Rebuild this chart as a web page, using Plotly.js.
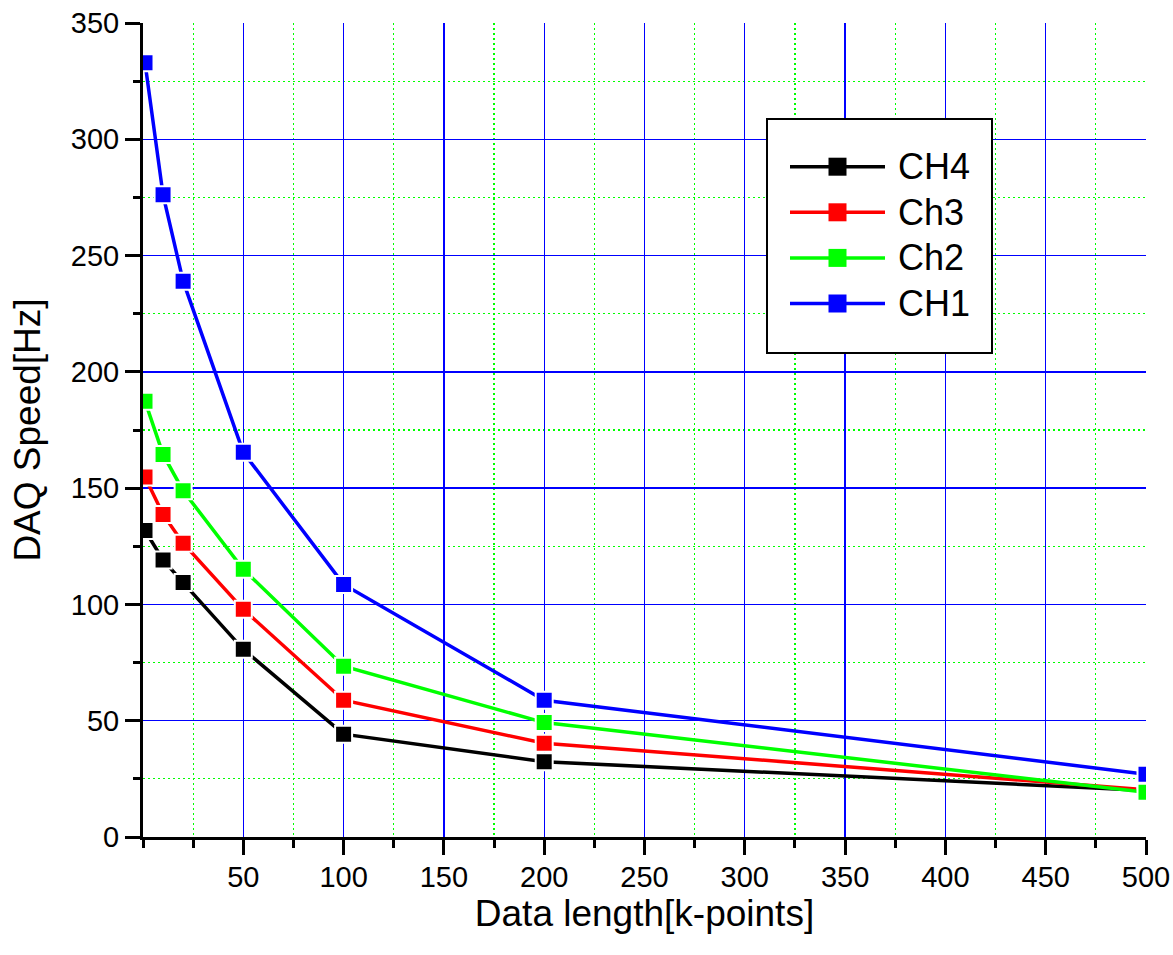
<!DOCTYPE html>
<html>
<head>
<meta charset="utf-8">
<script src="https://cdn.plot.ly/plotly-3.0.1.min.js"></script>
<style>
  html, body { margin: 0; padding: 0; background: #ffffff; }
  #chart { width: 1173px; height: 955px; }
</style>
</head>
<body>
<div id="chart"></div>
<script>
// ---- data ----
var dataLength = [1, 10, 20, 50, 100, 200, 500];          // k-points
var seriesNames = ["CH4", "Ch3", "Ch2", "CH1"];
var ch4Speed = [131.8, 119.1, 109.4, 80.7, 44.2, 32.4, 20.0];
var ch3Speed = [154.8, 138.7, 126.3, 97.9, 58.8, 40.3, 20.3];
var ch2Speed = [187.4, 164.5, 148.9, 115.1, 73.4, 49.2, 19.2];
var ch1Speed = [332.9, 276.1, 239.0, 165.4, 108.6, 58.8, 27.0];
var xTickVals = [50, 100, 150, 200, 250, 300, 350, 400, 450, 500];
var xTickText = ["50", "100", "150", "200", "250", "300", "350", "400", "450", "500"];

var seriesValues = [ch4Speed, ch3Speed, ch2Speed, ch1Speed];
var seriesColors = ["#000000", "#ff0000", "#00ff00", "#0000ff"];

var FONT = "Liberation Sans, Arial, Helvetica, sans-serif";

// plot area in pixels
var W = 1173, H = 955;
var L = 143, R = 1146, T = 23, B = 837;
function px2x(px) { return (px - L) / (R - L); }
function py2y(py) { return (B - py) / (B - T); }

var traces = seriesNames.map(function (name, i) {
  return {
    type: "scatter",
    mode: "lines+markers",
    name: name,
    x: dataLength,
    y: seriesValues[i],
    cliponaxis: true,
    line: { color: seriesColors[i], width: 3.5 },
    marker: { symbol: "square", size: 17, color: seriesColors[i],
              line: { color: "#ffffff", width: 2 } },
    showlegend: false
  };
});

// custom legend (box, line samples, markers, labels)
var shapes = [];
var annotations = [];
shapes.push({
  type: "rect", xref: "paper", yref: "paper", layer: "above",
  x0: px2x(767), x1: px2x(992), y0: py2y(353), y1: py2y(119),
  fillcolor: "#ffffff", line: { color: "#000000", width: 2 }
});
seriesNames.forEach(function (name, i) {
  var rowPy = 166.7 + i * 45.6;
  var yc = py2y(rowPy);
  shapes.push({
    type: "line", xref: "paper", yref: "paper", layer: "above",
    x0: px2x(790), x1: px2x(885), y0: yc, y1: yc,
    line: { color: seriesColors[i], width: 3.5 }
  });
  shapes.push({
    type: "rect", xref: "paper", yref: "paper", layer: "above",
    xsizemode: "pixel", ysizemode: "pixel",
    xanchor: px2x(837.5), yanchor: yc,
    x0: -9, x1: 9, y0: -9, y1: 9,
    fillcolor: seriesColors[i], line: { width: 0 }
  });
  annotations.push({
    xref: "paper", yref: "paper", x: px2x(896), y: yc,
    xanchor: "left", yanchor: "middle", showarrow: false,
    text: name, font: { family: FONT, size: 36, color: "#000000" }
  });
});

var minorGrid = { tickmode: "linear", tick0: 0, dtick: 25, ticks: "outside",
                  tickwidth: 3, tickcolor: "#000000",
                  showgrid: true, gridcolor: "rgb(0,255,0)", gridwidth: 1.2, griddash: "2px,3px" };

var layout = {
  width: W, height: H,
  margin: { l: L, r: W - R, t: T, b: H - B, pad: 0 },
  paper_bgcolor: "#ffffff",
  plot_bgcolor: "#ffffff",
  showlegend: false,
  font: { family: FONT, color: "#000000" },
  xaxis: {
    range: [0, 500],
    tickmode: "array", tickvals: xTickVals, ticktext: xTickText,
    ticks: "outside", ticklen: 15, tickwidth: 3, tickcolor: "#000000",
    ticklabelstandoff: -3,
    tickfont: { family: FONT, size: 29, color: "#000000" },
    showline: true, linecolor: "#000000", linewidth: 3,
    showgrid: true, gridcolor: "#0000ff", gridwidth: 1.3,
    zeroline: false,
    minor: Object.assign({ ticklen: 8 }, minorGrid),
    title: { text: "Data length[k-points]", font: { family: FONT, size: 37, color: "#000000" }, standoff: 8 }
  },
  yaxis: {
    range: [0, 350],
    tickmode: "linear", tick0: 0, dtick: 50,
    ticks: "outside", ticklen: 15, tickwidth: 3, tickcolor: "#000000",
    tickfont: { family: FONT, size: 29, color: "#000000" },
    showline: true, linecolor: "#000000", linewidth: 3,
    showgrid: true, gridcolor: "#0000ff", gridwidth: 1.3,
    zeroline: false,
    minor: Object.assign({ ticklen: 7 }, minorGrid),
    title: { text: "DAQ Speed[Hz]", font: { family: FONT, size: 37, color: "#000000" }, standoff: 19 }
  },
  shapes: shapes,
  annotations: annotations
};

Plotly.newPlot("chart", traces, layout, { staticPlot: true, displayModeBar: false });
</script>
</body>
</html>
